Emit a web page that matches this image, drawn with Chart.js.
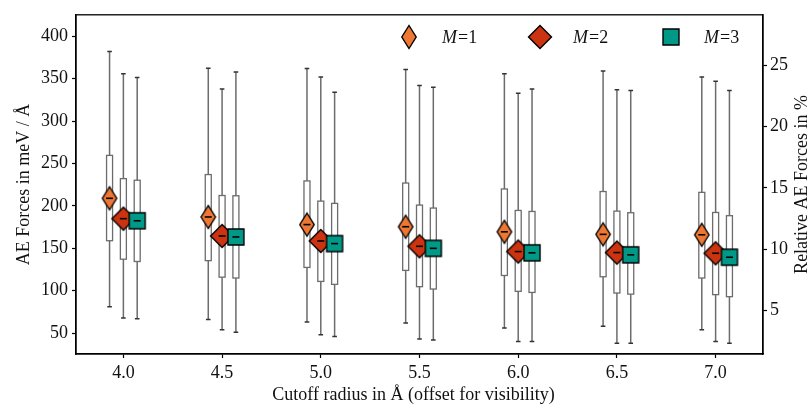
<!DOCTYPE html>
<html>
<head>
<meta charset="utf-8">
<script src="https://cdn.jsdelivr.net/npm/chart.js@4.4.1/dist/chart.umd.min.js"></script>
<style>
  html, body { margin: 0; padding: 0; background: #fff; }
  canvas { display: block; }
</style>
</head>
<body>
<canvas id="c" width="811" height="405"></canvas>
<script>
// Cutoff radii (Å) on the x axis
const radii = [4.0, 4.5, 5.0, 5.5, 6.0, 6.5, 7.0];

// Box statistics of the AE force errors (meV/Å) for each model size M
const m1Median = [209, 187, 178, 175.5, 169.5, 166.5, 166];
const m1Q1     = [159, 135.5, 127.5, 124, 118, 116.5, 115];
const m1Q3     = [259.6, 237, 229.5, 227, 220, 217, 216];
const m1Lo     = [81, 66, 63, 62, 56, 58, 54];
const m1Hi     = [382, 362.5, 362, 361, 356, 359, 352];

const m2Median = [185, 164.6, 158.7, 152.4, 146.2, 145, 144.2];
const m2Q1     = [137.2, 116, 111, 104.8, 99.3, 97.3, 95.4];
const m2Q3     = [232.2, 212.3, 205.7, 201, 194.7, 193.9, 192.3];
const m2Lo     = [68, 54, 48, 43, 40, 38, 40];
const m2Hi     = [356, 338, 352, 342, 333, 337, 347];

const m3Median = [182.5, 163.4, 155.6, 150, 144.7, 142.3, 139.5];
const m3Q1     = [134.5, 115, 107.5, 102, 98, 96, 93];
const m3Q3     = [230.3, 212, 203, 197.5, 193.5, 192, 188.5];
const m3Lo     = [67, 51, 46, 42, 40, 38, 38];
const m3Hi     = [351.5, 358, 334, 340, 338, 336, 336];

// Tick labels
const xTicks  = [4.0, 4.5, 5.0, 5.5, 6.0, 6.5, 7.0];
const yTicks  = [50, 100, 150, 200, 250, 300, 350, 400];
const y2Ticks = [5, 10, 15, 20, 25];

const seriesLabels = ['1', '2', '3'];

// ---- presentation ----
const FONT = '"Liberation Serif", "DejaVu Serif", serif';
const FSIZE = 18;
const COLORS = ['#EE7733', '#CC3311', '#009988'];
const SHIFT = [-0.07, 0, 0.07];      // horizontal offset per series, in Å

const series = [
  { med: m1Median, q1: m1Q1, q3: m1Q3, lo: m1Lo, hi: m1Hi },
  { med: m2Median, q1: m2Q1, q3: m2Q3, lo: m2Lo, hi: m2Hi },
  { med: m3Median, q1: m3Q1, q3: m3Q3, lo: m3Lo, hi: m3Hi }
];

// marker glyphs: thin diamond, diamond, square
function makeMarker(kind, color) {
  const size = 28;
  const cv = document.createElement('canvas');
  cv.width = size; cv.height = size;
  const g = cv.getContext('2d');
  const c = size / 2;
  g.beginPath();
  if (kind === 'thin') {
    const w = 7.2, h = 11.5;
    g.moveTo(c, c - h); g.lineTo(c + w, c); g.lineTo(c, c + h); g.lineTo(c - w, c);
  } else if (kind === 'diamond') {
    const r = 11.5;
    g.moveTo(c, c - r); g.lineTo(c + r, c); g.lineTo(c, c + r); g.lineTo(c - r, c);
  } else {
    const r = 8;
    g.rect(c - r, c - r, 2 * r, 2 * r);
  }
  g.closePath();
  g.fillStyle = color;
  g.fill();
  g.lineWidth = 1.4;
  g.lineJoin = 'miter';
  g.strokeStyle = '#000';
  g.stroke();
  return cv;
}
const markers = [
  makeMarker('thin', COLORS[0]),
  makeMarker('diamond', COLORS[1]),
  makeMarker('square', COLORS[2])
];

// boxes and whiskers behind the markers
const boxPlugin = {
  id: 'boxes',
  beforeDatasetsDraw(chart) {
    const ctx = chart.ctx, xs = chart.scales.x, ys = chart.scales.y;
    ctx.save();
    series.forEach((s, k) => {
      radii.forEach((r, i) => {
        const x = xs.getPixelForValue(r + SHIFT[k]);
        const yLo = ys.getPixelForValue(s.lo[i]);
        const yHi = ys.getPixelForValue(s.hi[i]);
        const yQ1 = ys.getPixelForValue(s.q1[i]);
        const yQ3 = ys.getPixelForValue(s.q3[i]);
        ctx.strokeStyle = '#6c6c6c';
        ctx.lineWidth = 1.5;
        ctx.beginPath();
        ctx.moveTo(x, yLo); ctx.lineTo(x, yQ1);
        ctx.moveTo(x, yQ3); ctx.lineTo(x, yHi);
        ctx.stroke();
        ctx.strokeStyle = '#333';
        ctx.beginPath();
        ctx.moveTo(x - 2.3, yLo); ctx.lineTo(x + 2.3, yLo);
        ctx.moveTo(x - 2.3, yHi); ctx.lineTo(x + 2.3, yHi);
        ctx.stroke();
        ctx.fillStyle = '#fff';
        ctx.fillRect(x - 3, yQ3, 6, yQ1 - yQ3);
        ctx.strokeStyle = '#6c6c6c';
        ctx.lineWidth = 1.3;
        ctx.strokeRect(x - 3, yQ3, 6, yQ1 - yQ3);
      });
    });
    ctx.restore();
  },
  afterDatasetsDraw(chart) {
    const ctx = chart.ctx, xs = chart.scales.x, ys = chart.scales.y;
    ctx.save();
    ctx.strokeStyle = '#000';
    ctx.lineWidth = 1.6;
    series.forEach((s, k) => {
      radii.forEach((r, i) => {
        const x = xs.getPixelForValue(r + SHIFT[k]);
        const y = ys.getPixelForValue(s.med[i]);
        ctx.beginPath();
        ctx.moveTo(x - 3.5, y); ctx.lineTo(x + 3.5, y);
        ctx.stroke();
      });
    });
    ctx.restore();
  }
};

// frame, axis titles and legend
const decoPlugin = {
  id: 'deco',
  afterDraw(chart) {
    const ctx = chart.ctx, a = chart.chartArea;
    ctx.save();
    ctx.strokeStyle = '#000';
    ctx.lineWidth = 1.3;
    ctx.strokeRect(a.left, a.top, a.right - a.left, a.bottom - a.top);

    ctx.fillStyle = '#111';
    ctx.font = FSIZE + 'px ' + FONT;
    ctx.textAlign = 'center';
    ctx.textBaseline = 'middle';
    ctx.fillText('Cutoff radius in Å (offset for visibility)', (a.left + a.right) / 2 - 6, 395);

    ctx.save();
    ctx.translate(24, (a.top + a.bottom) / 2);
    ctx.rotate(-Math.PI / 2);
    ctx.fillText('AE Forces in meV / Å', 0, 0);
    ctx.restore();

    ctx.save();
    ctx.translate(802, (a.top + a.bottom) / 2);
    ctx.rotate(-Math.PI / 2);
    ctx.fillText('Relative AE Forces in %', 0, 0);
    ctx.restore();

    // legend entries
    const legendX = [409, 540, 671];
    const legendY = 37;
    ctx.textAlign = 'left';
    ctx.textBaseline = 'alphabetic';
    seriesLabels.forEach((lab, k) => {
      const m = markers[k];
      ctx.drawImage(m, legendX[k] - m.width / 2, legendY - m.height / 2);
      let tx = legendX[k] + 33;
      ctx.font = 'italic ' + FSIZE + 'px ' + FONT;
      ctx.fillText('M', tx, 43);
      tx += ctx.measureText('M').width + 1;
      ctx.font = FSIZE + 'px ' + FONT;
      ctx.fillText('=' + lab, tx, 43);
    });
    ctx.restore();
  }
};

const datasets = series.map((s, k) => ({
  label: 'M=' + seriesLabels[k],
  data: radii.map((r, i) => ({ x: r + SHIFT[k], y: s.med[i] })),
  pointStyle: markers[k],
  pointRadius: 10,
  showLine: false,
  order: 3 - k,
  yAxisID: 'y'
}));

const tickFont = { family: FONT, size: FSIZE };
const axisCommon = {
  grid: { drawOnChartArea: false, drawTicks: true, tickLength: 4, color: '#000', tickWidth: 1.2 },
  border: { display: true, color: '#000', width: 1.3 }
};

new Chart(document.getElementById('c'), {
  type: 'scatter',
  data: { datasets },
  options: {
    responsive: false,
    animation: false,
    events: [],
    layout: { padding: { top: 13, left: 0, right: 0, bottom: 0 } },
    plugins: { legend: { display: false }, tooltip: { enabled: false } },
    scales: {
      x: {
        type: 'linear',
        min: 3.76, max: 7.24,
        ...axisCommon,
        afterBuildTicks: ax => { ax.ticks = xTicks.map(v => ({ value: v })); },
        afterFit: ax => { ax.height = 51; },
        ticks: { font: tickFont, color: '#111', padding: 4, maxRotation: 0,
                 callback: v => Number(v).toFixed(1) }
      },
      y: {
        type: 'linear', position: 'left',
        min: 25.4, max: 425.4,
        ...axisCommon,
        afterBuildTicks: ax => { ax.ticks = yTicks.map(v => ({ value: v })); },
        afterFit: ax => { ax.width = 76; },
        ticks: { font: tickFont, color: '#111', padding: 4 }
      },
      y2: {
        type: 'linear', position: 'right',
        min: 1.42, max: 29.15,
        ...axisCommon,
        afterBuildTicks: ax => { ax.ticks = y2Ticks.map(v => ({ value: v })); },
        afterFit: ax => { ax.width = 48; },
        ticks: { font: tickFont, color: '#111', padding: 3 }
      }
    }
  },
  plugins: [boxPlugin, decoPlugin]
});
</script>
</body>
</html>
